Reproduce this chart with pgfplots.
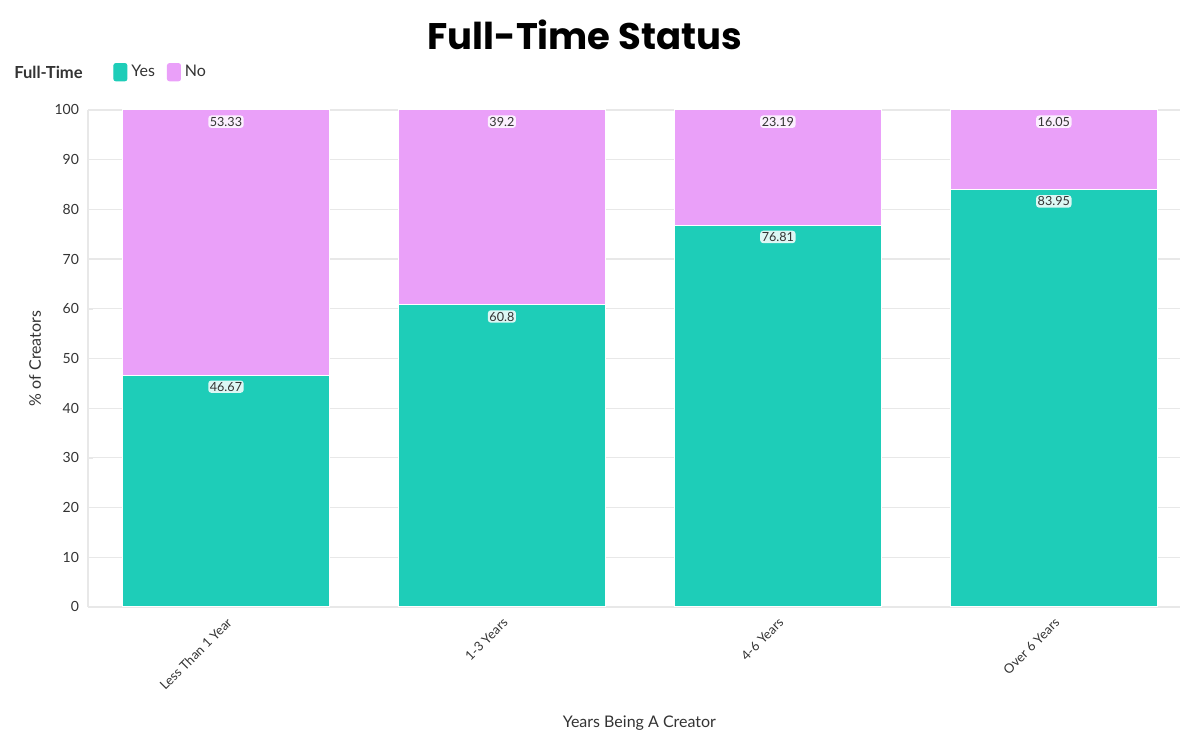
\documentclass[border=0pt]{standalone}
\usepackage{fontspec}
\setmainfont{Lato}
\newfontfamily\titlefont{Poppins}
\usepackage{pgfplots}
\pgfplotsset{compat=1.18}
\definecolor{yescol}{HTML}{1ECDB8}
\definecolor{nocol}{HTML}{EAA0F9}
\definecolor{gridc}{HTML}{E8E8E8}
\definecolor{txt}{HTML}{333333}
\begin{document}
\begin{tikzpicture}
\begin{axis}[
  scale only axis,
  width=546pt, height=248.5pt,
  ybar stacked, bar width=103.5pt,
  xmin=-0.5, xmax=3.457,
  ymin=0, ymax=100,
  ytick={0,10,...,100},
  xtick={0,1,2,3},
  xticklabels={Less Than 1 Year,1-3 Years,4-6 Years,Over 6 Years},
  /pgf/number format/assume math mode=true,
  clip=false,
  axis x line*=bottom, axis y line*=left,
  axis line style={gridc, line width=0.8pt},
  ymajorgrids, grid style={gridc, line width=0.6pt},
  major tick length=2.5pt, tick style={gridc},
  tick label style={txt, font=\fontsize{7}{8}\selectfont},
  x tick label style={rotate=45, anchor=north east, font=\fontsize{6.5}{7}\selectfont},
  yticklabel style={xshift=-1pt},
  xlabel={Years Being A Creator},
  ylabel={\% of Creators},
  label style={txt, font=\fontsize{8}{9}\selectfont},
  xlabel style={at={(axis description cs:0.505,-0.233)}, anchor=center},
  ylabel style={at={(axis description cs:-0.0485,0.5)}, anchor=center, rotate=0},
  title={Full-Time Status},
  title style={at={(axis description cs:0.455,1.127)}, anchor=center,
    font=\titlefont\fontsize{18.5}{22}\bfseries\selectfont, text=black},
  legend style={at={(axis description cs:0.0174,1.076)}, anchor=west,
    draw=none, fill=none, legend columns=-1, text=txt,
    font=\fontsize{8}{9}\selectfont,
    /tikz/every even column/.append style={column sep=4pt}},
  nodes near coords={\pgfmathprintnumber[fixed,precision=2]{\pgfplotspointmeta}},
  point meta=rawy,
  every node near coord/.append style={
    /utils/exec={\pgfmathfloattofixed{\pgfplotspointmeta}\global\let\mymeta\pgfmathresult},
    anchor=north,
    yshift={\mymeta*1.2425pt-2.5pt},
    font=\fontsize{6.3}{7}\selectfont, text=txt, fill=white, fill opacity=0.85,
    text opacity=1, rounded corners=1.5pt, inner sep=0.8pt},
]
\addplot[fill=yescol, draw=white, line width=0.5pt,
  legend image code/.code={\fill[yescol, rounded corners=1pt] (0pt,-4.3pt) rectangle (6.5pt,4.3pt);}]
  coordinates {(0,46.67) (1,60.8) (2,76.81) (3,83.95)};
\addplot[fill=nocol, draw=white, line width=0.5pt,
  legend image code/.code={\fill[nocol, rounded corners=1pt] (0pt,-4.3pt) rectangle (6.5pt,4.3pt);}]
  coordinates {(0,53.33) (1,39.2) (2,23.19) (3,16.05)};
\legend{Yes,No}
\node[anchor=west, font=\fontsize{8.3}{9}\bfseries\selectfont, text=txt]
  at (rel axis cs:-0.074,1.076) {Full-Time};
\path (rel axis cs:-0.0806,-0.2495) rectangle (rel axis cs:1.001,1.2213);
\end{axis}
\end{tikzpicture}
\end{document}
